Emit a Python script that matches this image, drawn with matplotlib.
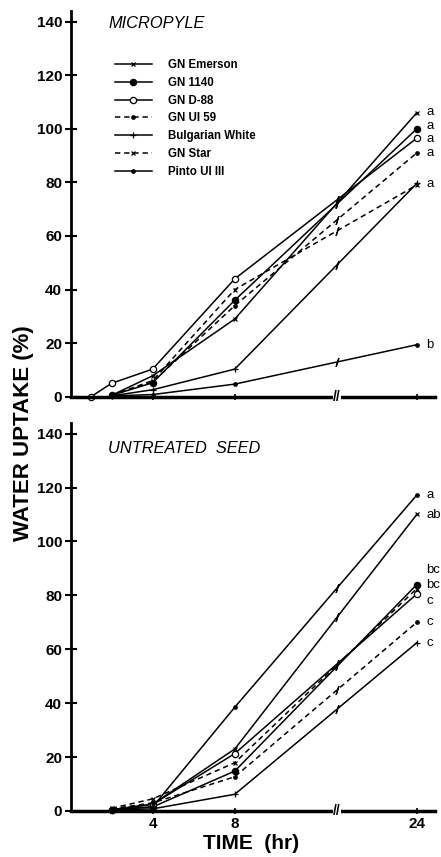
import numpy as np
import matplotlib
matplotlib.use("Agg")
import matplotlib.pyplot as plt

plt.rcParams["font.family"] = ["Liberation Sans", "DejaVu Sans"]

hours = [1, 2, 4, 8, 24]
names = ["GN Emerson", "GN 1140", "GN D-88", "GN UI 59", "Bulgarian White", "GN Star", "Pinto UI III"]

nan = np.nan
micropyle = {
    "GN Emerson":      [nan, 0.5, 7.8, 29.0, 106.0],
    "GN 1140":         [nan, 0.5, 5.2, 36.0, 100.0],
    "GN D-88":         [0.0, 5.0, 10.3, 44.0, 96.5],
    "GN UI 59":        [nan, 0.5, 5.5, 34.0, 91.0],
    "Bulgarian White": [nan, 0.3, 2.6, 10.3, 79.6],
    "GN Star":         [nan, 0.5, 6.0, 40.0, 79.0],
    "Pinto UI III":    [nan, 0.3, 0.8, 4.7, 19.4],
}
untreated = {
    "GN Emerson":      [nan, 0.5, 2.5, 23.0, 110.0],
    "GN 1140":         [nan, 0.5, 1.5, 14.8, 84.0],
    "GN D-88":         [nan, 0.5, 2.5, 21.3, 80.5],
    "GN UI 59":        [nan, 0.8, 3.0, 12.7, 70.0],
    "Bulgarian White": [nan, 0.3, 0.8, 6.2, 62.4],
    "GN Star":         [nan, 1.0, 4.5, 17.9, 82.5],
    "Pinto UI III":    [nan, 0.5, 1.5, 38.5, 117.2],
}

top_letters = ["a", "a", "a", "a", "a", "b"]
top_letter_y = [106.2, 101.0, 96.2, 90.8, 79.5, 19.4]
bot_letters = ["a", "ab", "bc", "bc", "c", "c", "c"]
bot_letter_y = [117.2, 109.8, 89.3, 83.8, 78.0, 70.0, 62.4]

dash = (0, (3.5, 2.5))
styles = {
    "GN Emerson":      dict(marker="x", ls="-", ms=3.5, mfc="k"),
    "GN 1140":         dict(marker="o", ls="-", ms=4.5, mfc="k"),
    "GN D-88":         dict(marker="o", ls="-", ms=4.5, mfc="white"),
    "GN UI 59":        dict(marker="o", ls=dash, ms=2.5, mfc="k"),
    "Bulgarian White": dict(marker="+", ls="-", ms=4.5, mfc="k"),
    "GN Star":         dict(marker="x", ls=dash, ms=3.5, mfc="k"),
    "Pinto UI III":    dict(marker="o", ls="-", ms=2.5, mfc="k"),
}

# broken time axis: compressed after 8 hr
k = 0.554
t_break = 17
def fwd(t):
    t = np.asarray(t, dtype=float)
    return np.where(t <= 8, t, 8 + (t - 8) * k)
def inv(x):
    x = np.asarray(x, dtype=float)
    return np.where(x <= 8, x, 8 + (x - 8) / k)

fig = plt.figure(figsize=(4.41, 8.57), dpi=100)
H = 857.0
W = 441.0
ax1 = fig.add_axes([70.5 / W, (H - 396.7) / H, (435 - 70.5) / W, (396.7 - 10.9) / H])
ax2 = fig.add_axes([70.5 / W, (H - 811) / H, (435 - 70.5) / W, (811 - 422.8) / H])

for ax, data, letters, ly, title, ty in [
        (ax1, micropyle, top_letters, top_letter_y, "MICROPYLE", 0.967),
        (ax2, untreated, bot_letters, bot_letter_y, "UNTREATED  SEED", 0.935)]:
    ax.set_xscale("function", functions=(fwd, inv))
    for n in names:
        st = styles[n]
        y = np.array(data[n])
        m = ~np.isnan(y)
        t = np.array(hours)[m]
        ax.plot(t, y[m], color="k", lw=1.1, ls=st["ls"],
                marker=st["marker"], ms=st["ms"], mfc=st["mfc"], mec="k",
                mew=0.9, label=n, clip_on=False)
        # break mark on each line
        yb = np.interp(fwd(t_break), fwd(t), y[m])
        ax.plot([t_break], [yb], ls="none", marker=r"$/\!\!/$", ms=6, color="k", mew=0.3)
    ax.set_xlim(0, 25.6)
    ax.set_ylim(0, 144)
    ax.set_yticks(range(0, 141, 20))
    ax.set_xticks([4, 8, 24])
    for s in ["top", "right"]:
        ax.spines[s].set_visible(False)
    ax.spines["left"].set_linewidth(2.0)
    ax.spines["bottom"].set_linewidth(2.5)
    ax.tick_params(axis="y", direction="inout", length=8, width=1.5, pad=2, labelsize=11)
    ax.tick_params(axis="x", direction="inout", length=5, width=1.2, pad=2, labelsize=11)
    for lbl in ax.get_xticklabels() + ax.get_yticklabels():
        lbl.set_fontweight("bold")
    ax.minorticks_off()
    for lab, yy in zip(letters, ly):
        ax.text(24.85, yy, lab, fontsize=9.5, ha="left", va="center", clip_on=False)
    ax.text(0.103, ty, title, transform=ax.transAxes, fontsize=11.8, style="italic",
            ha="left", va="center")
    # axis break mark
    ax.text(t_break, 0, "//", fontsize=10, ha="center", va="center", fontweight="bold",
            bbox=dict(facecolor="white", edgecolor="none", pad=0.3), clip_on=False)

ax1.tick_params(axis="x", labelbottom=False)

leg = ax1.legend(loc="upper left", bbox_to_anchor=(0.122, 0.875), frameon=False,
                 prop=dict(size=8.3, weight="bold"), handlelength=3.2,
                 handletextpad=1.4, labelspacing=0.5, borderpad=0, borderaxespad=0)

fig.text(24 / W, (H - 433) / H, "WATER UPTAKE (%)", rotation=90, fontsize=16,
         fontweight="bold", ha="center", va="center")
fig.text(251 / W, (H - 843.5) / H, "TIME  (hr)", fontsize=15, fontweight="bold",
         ha="center", va="center")

fig.savefig("out.png", dpi=100)
